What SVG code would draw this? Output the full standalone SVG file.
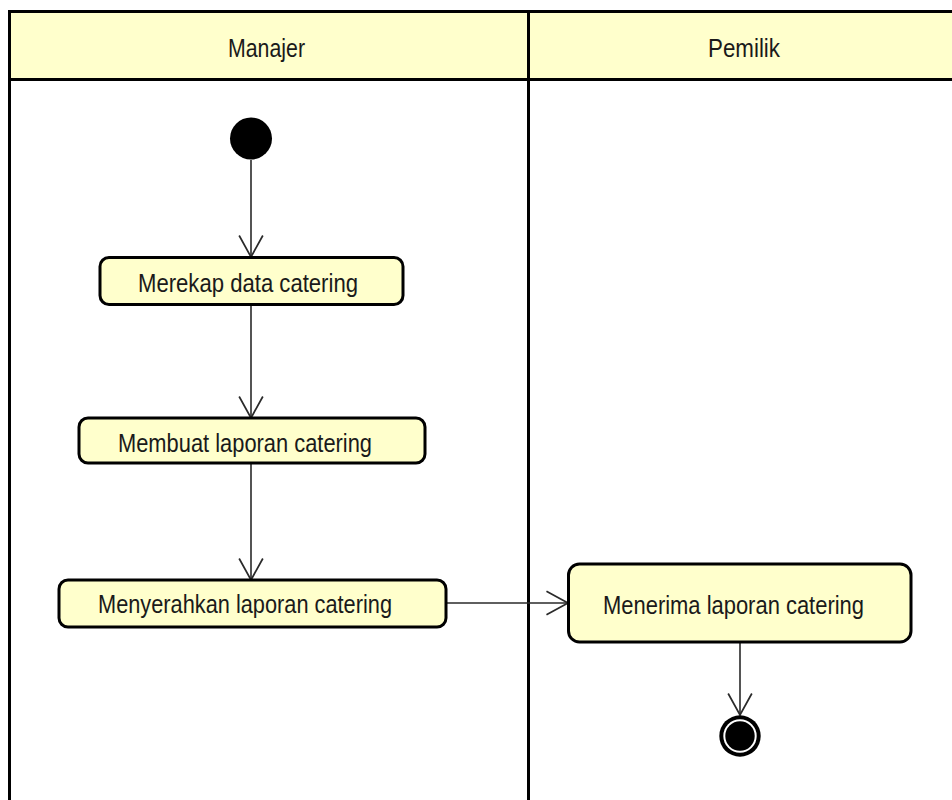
<svg xmlns="http://www.w3.org/2000/svg" width="952" height="800" viewBox="0 0 952 800">
  <style>
    .lane-head { fill: #FFFFCC; stroke: none; }
    .lane-line { stroke: #000000; stroke-width: 3; fill: none; }
    .action { fill: #FFFFCC; stroke: #000000; stroke-width: 3; }
    .label { font-family: "Liberation Sans", Arial, sans-serif; font-size: 25px; fill: #1a1a1a; }
    .flow { stroke: #2a2a2a; stroke-width: 1.6; fill: none; }
  </style>
  <defs>
    <marker id="open-arrow" markerUnits="userSpaceOnUse" markerWidth="26" markerHeight="28" viewBox="-22 -13 24 26" refX="0" refY="0" orient="auto" overflow="visible">
      <path d="M-20,-11 L0,0 L-20,11" fill="none" stroke="#2a2a2a" stroke-width="1.6"/>
    </marker>
  </defs>

  <rect width="952" height="800" fill="#ffffff"/>

  <!-- swimlanes -->
  <g id="lanes">
    <rect class="lane-head" x="9.5" y="11.5" width="950" height="68"/>
    <path class="lane-line" d="M9.5,805 V11.5 H960 M9.5,79.5 H960 M528.5,11.5 V805"/>
    <text class="label" x="228" y="57" textLength="77" lengthAdjust="spacingAndGlyphs">Manajer</text>
    <text class="label" x="708" y="57" textLength="72" lengthAdjust="spacingAndGlyphs">Pemilik</text>
  </g>

  <!-- connectors -->
  <g id="connectors">
    <line class="flow" x1="251" y1="160" x2="251" y2="257" marker-end="url(#open-arrow)"/>
    <line class="flow" x1="251" y1="305" x2="251" y2="418" marker-end="url(#open-arrow)"/>
    <line class="flow" x1="251" y1="463" x2="251" y2="580" marker-end="url(#open-arrow)"/>
    <line class="flow" x1="446" y1="603" x2="568" y2="603" marker-end="url(#open-arrow)"/>
    <line class="flow" x1="740" y1="642" x2="740" y2="715" marker-end="url(#open-arrow)"/>
  </g>

  <!-- start -->
  <g id="start">
    <circle cx="251" cy="138.5" r="21" fill="#000000"/>
  </g>

  <g id="merekap">
    <rect class="action" x="100" y="257.5" width="303" height="47" rx="9"/>
    <text class="label" x="138" y="292" textLength="220" lengthAdjust="spacingAndGlyphs">Merekap data catering</text>
  </g>

  <g id="membuat">
    <rect class="action" x="79" y="418" width="346" height="45" rx="9"/>
    <text class="label" x="118" y="452" textLength="254" lengthAdjust="spacingAndGlyphs">Membuat laporan catering</text>
  </g>

  <g id="menyerahkan">
    <rect class="action" x="59" y="580" width="387" height="47" rx="9"/>
    <text class="label" x="98" y="613" textLength="294" lengthAdjust="spacingAndGlyphs">Menyerahkan laporan catering</text>
  </g>

  <g id="menerima">
    <rect class="action" x="568.5" y="564" width="342.5" height="78" rx="11"/>
    <text class="label" x="603" y="614" textLength="261" lengthAdjust="spacingAndGlyphs">Menerima laporan catering</text>
  </g>

  <!-- end -->
  <g id="end">
    <circle cx="740" cy="736" r="20.7" fill="#000000"/>
    <circle cx="740" cy="736" r="16.7" fill="#ffffff"/>
    <circle cx="740" cy="736" r="14.7" fill="#000000"/>
  </g>
</svg>
